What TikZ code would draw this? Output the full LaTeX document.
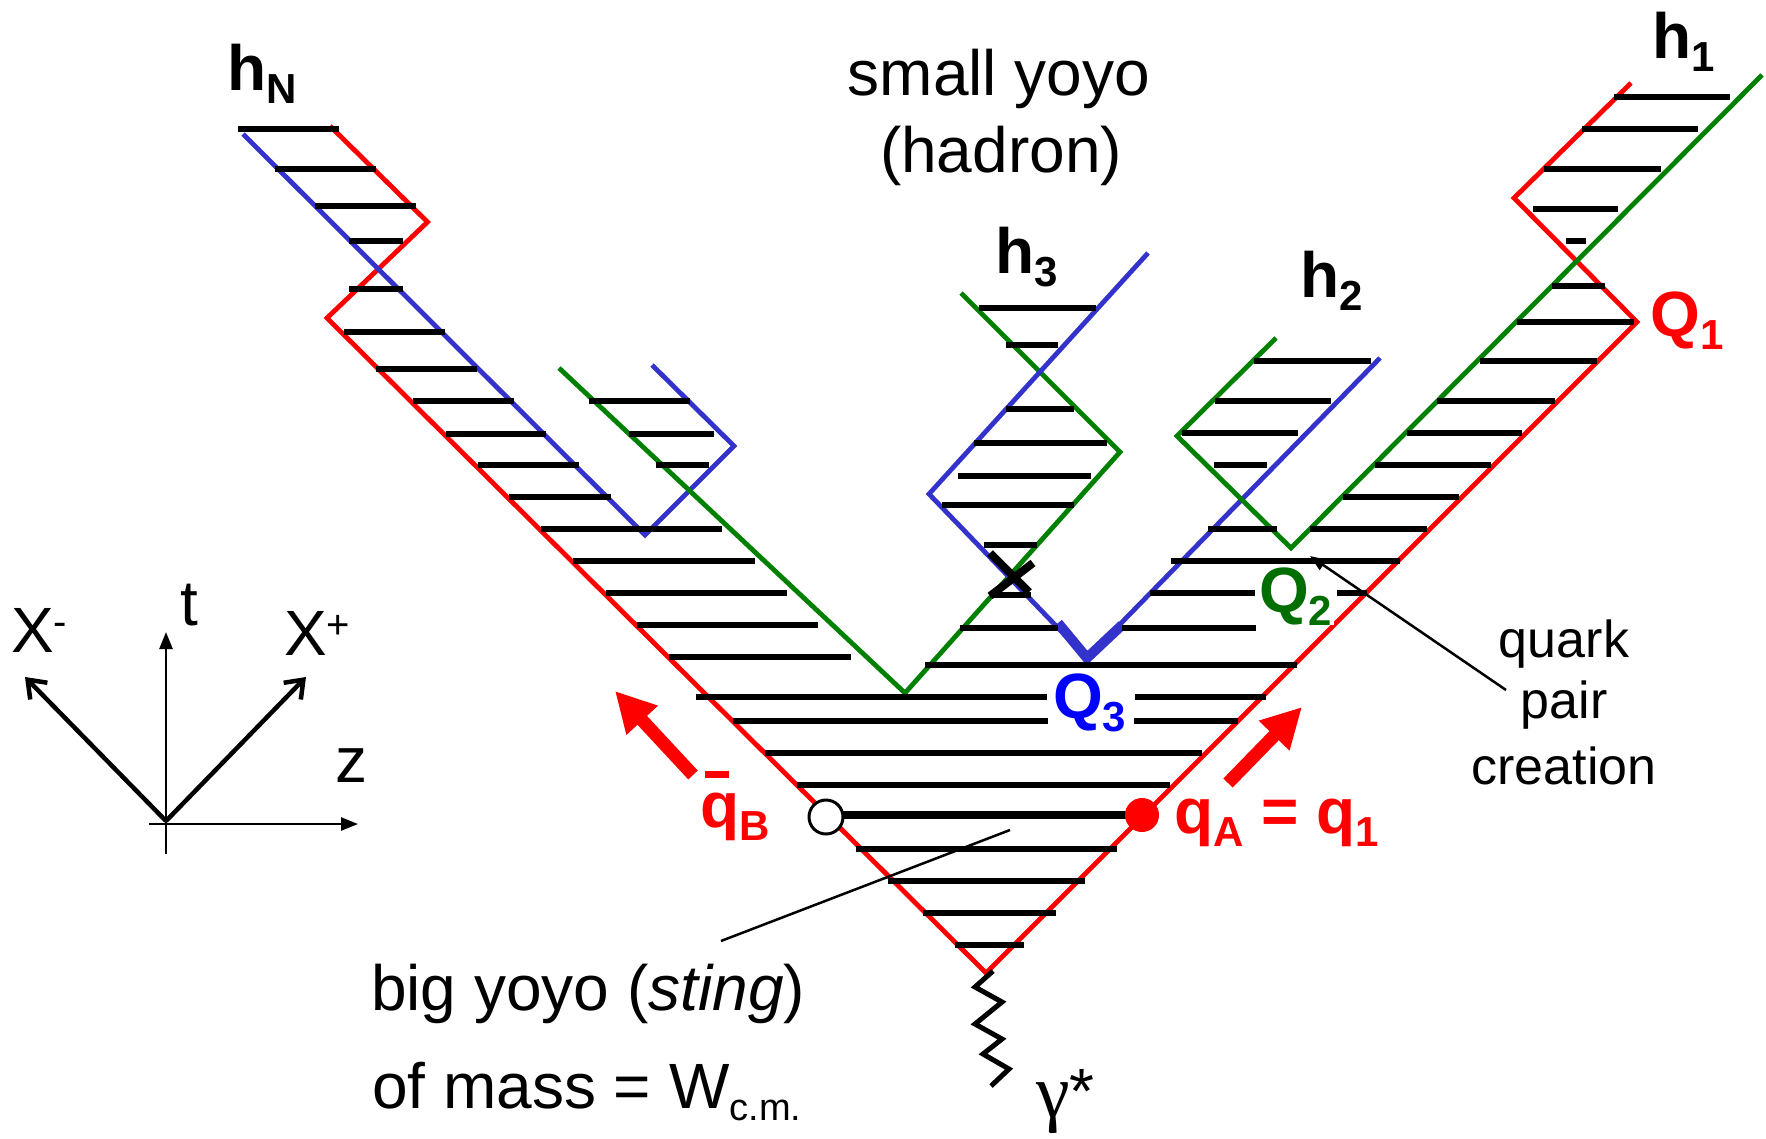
\documentclass[tikz,border=0pt]{standalone}
\usepackage{fontspec}
\setmainfont{Liberation Sans}
\newfontfamily\serifgreek{Liberation Serif}
\usetikzlibrary{arrows.meta}
\definecolor{rq}{RGB}{255,0,0}
\definecolor{gq}{RGB}{0,128,0}
\definecolor{gl}{RGB}{0,110,0}
\definecolor{bq}{RGB}{51,51,204}
\definecolor{bl}{RGB}{0,0,255}
\newcommand\fsz[1]{\fontsize{#1}{#1}\selectfont}
\newcommand\lsub[1]{\raisebox{-13pt}{\fsz{42}#1}}
\newcommand\lsup[1]{\raisebox{17pt}{\fsz{40}#1}}
\begin{document}
\begin{tikzpicture}[x=1pt,y=-1pt,
  wl/.style={line width=4.8pt, line join=miter},
  hatchline/.style={line width=5.5pt, black},
  lbl/.style={font=\bfseries\fsz{64}, inner sep=0pt, anchor=base west},
  txt/.style={font=\fsz{64}, inner sep=0pt, anchor=base},
  qtxt/.style={font=\fsz{52}, inner sep=0pt, anchor=base},
  bigarrow/.style={rq, line width=13pt, -{Triangle[length=40pt,width=40pt]}},
  axis/.style={line width=2.5pt, -{Triangle[length=17pt,width=13pt]}},
  lcaxis/.style={line width=4.5pt, -{Straight Barb[length=16pt,width=24pt]}},
  pointer/.style={line width=2.5pt}]
\useasboundingbox (0,0) rectangle (1766,1138);

% ---------- world lines ----------
\coordinate (V) at (986,973);
\draw[wl, rq] (330,126) -- (427.5,222) -- (327,318) -- (V) -- (1637,322) -- (1514,198) -- (1631,83);
\draw[wl, bq] (243,134) -- (645,535) -- (734,446) -- (652,365);
\draw[wl, gq] (559,368) -- (905,693) -- (1120,452) -- (961,293);
\draw[wl, bq] (1148,253) -- (929,494) -- (1087,658) -- (1380,358);
\draw[line width=10pt, bq, line join=miter] (1058,623) -- (1087,658) -- (1122,625);
\draw[wl, gq] (1276,338) -- (1177,436) -- (1291,548) -- (1762,75);

% ---------- string hatching ----------
\foreach \y/\a/\b in {129/237.5/338.6, 169/275/375.7, 206/315/416, 241/349/402.5, 289/349/402.5,
  332/344/445, 369/376/477, 401/413/514, 434/446/546, 465/477.5/578.6, 497/509/610.7,
  529/541/722, 561/573/754.6, 593/606/787, 625/637/818, 657/669/851, 697/696/1047,
  721/733/1048, 753/765/1202, 785/797/1170, 849/856/1117, 881/888/1085, 913/923/1056, 945/955/1024,
  401/589/690, 434/629/714, 465/656/709,
  308/979/1096, 345/1006/1058, 409/1006/1074, 443/974/1107, 476/958/1091, 505/942/1074,
  545/984/1037, 595/990/1031, 628/960/1058,
  628/1122/1256, 665/925/1297, 697/1135/1266, 721/1134/1238,
  361/1254/1371, 401/1215/1331, 433/1182/1298, 465/1214/1267, 529/1208/1277,
  529/1310/1427, 561/1171/1400, 593/1150/1255, 593/1337/1367,
  97/1614/1730, 129/1582/1698, 169/1544/1661, 209/1533/1618, 241/1566/1586, 286/1552/1605,
  322/1517/1634, 361/1480/1597, 401/1437/1555, 433/1407/1522, 465/1375/1491, 497/1343/1459}
  \draw[hatchline] (\a,\y) -- (\b,\y);

% big yoyo string between the quarks
\coordinate (qBpos) at (826,817);
\coordinate (qApos) at (1142,815);
\draw[line width=7.5pt] (826,815) -- (1142,815);
\draw[line width=3pt, fill=white] (qBpos) circle[radius=17pt];
\fill[rq] (qApos) circle[radius=17pt];

% X mark
\draw[line width=8pt] (990,553) -- (1029,592);
\draw[line width=8pt] (1033,563) -- (990,596);

% photon
\draw[line width=5pt, line join=miter] (993,971) -- (975,987) -- (1002,1002) -- (975,1024)
  -- (1002,1039) -- (983,1054) -- (1009,1069) -- (991,1086);

% big red arrows
\coordinate (aLt) at (693,775); \coordinate (aLh) at (615,691);
\coordinate (aRt) at (1228,783); \coordinate (aRh) at (1302,707);
\draw[bigarrow] (aLt) -- (aLh);
\draw[bigarrow] (aRt) -- (aRh);

% ---------- labels ----------
\node[lbl] (hN) at (227,90) {h\lsub{N}};
\node[lbl] (h1) at (1652,58) {h\lsub{1}};
\node[lbl] (h3) at (995,273) {h\lsub{3}};
\node[lbl] (h2) at (1300,297) {h\lsub{2}};
\node[lbl, text=rq] (Q1) at (1650,336) {Q\lsub{1}};
\node[lbl, text=gl, fill=white, inner xsep=2pt] (Q2) at (1257,612) {Q\lsub{2}};
\node[lbl, text=bl, fill=white, inner xsep=4pt, inner ysep=3pt] (Q3) at (1049,718) {Q\lsub{3}};
\node[lbl, text=rq] (qB) at (700,827) {q\lsub{B}};
\draw[rq, line width=7pt] (705,774.5) -- (729,774.5);
\node[lbl, text=rq] (qA) at (1174,833) {q\lsub{A} = q\lsub{1}};

\node[txt] (sy1) at (999,95) {small yoyo};
\node[txt] (sy2) at (1001,172) {(hadron)};

\node[qtxt] (qp1) at (1564,657) {quark};
\node[qtxt] (qp2) at (1564,718) {pair};
\node[qtxt] (qp3) at (1564,784) {creation};
\coordinate (qpTail) at (1506,690);
\coordinate (qpTip) at (1310,556);
\draw[pointer, -{Triangle[length=16pt,width=12pt]}] (qpTail) -- (qpTip);

\node[txt, anchor=base west] (by1) at (371,1010) {big yoyo (\textit{sting})};
\node[txt, anchor=base west] (by2) at (372,1108) {of mass = W\raisebox{-12pt}{\fsz{38}c.m.}};
\coordinate (byTip) at (1010,830);
\coordinate (byTail) at (721,941);
\draw[pointer] (byTail) -- (byTip);

\node[inner sep=0pt, anchor=base west] (gam) at (1036,1117) {{\serifgreek\fsz{76}γ}\raisebox{4pt}{\fsz{64}*}};

% ---------- axes ----------
\coordinate (O) at (166,821);
\draw[axis] (166,854) -- (166,632);
\draw[axis] (149,824) -- (358,824);
\draw[lcaxis] (O) -- (25,677);
\draw[lcaxis] (O) -- (306,677);
\node[txt, anchor=base west] (xm) at (11,652) {X\lsup{-}};
\node[txt, anchor=base west] (xp) at (284,655) {X\lsup{+}};
\node[txt, anchor=base west] (tl) at (180,625) {t};
\node[txt, anchor=base west] (zl) at (335,782) {z};
\end{tikzpicture}
\end{document}
